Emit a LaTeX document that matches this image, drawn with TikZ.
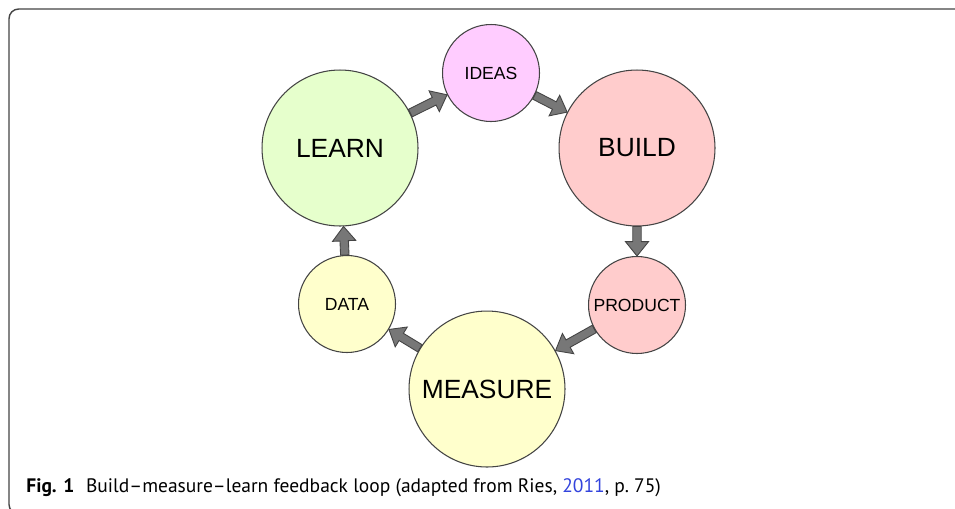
\documentclass[tikz,border=0pt]{standalone}
\usepackage{fontspec}
\setsansfont{Liberation Sans}
\newfontfamily\capfont[Ligatures=TeX]{PT Sans}
\usepackage{tikz}
\usetikzlibrary{calc}

\definecolor{ideapink}{HTML}{FFCCFF}
\definecolor{learngreen}{HTML}{E6FFCC}
\definecolor{buildred}{HTML}{FFCCCC}
\definecolor{measureyellow}{HTML}{FFFFCC}
\definecolor{arrowgray}{HTML}{777777}
\definecolor{edgegray}{HTML}{444444}
\definecolor{citeblue}{HTML}{3344DD}

% block arrow from the border of #1 to the border of #2
\newcommand{\loopstep}[2]{%
\path (#1) -- (#2) coordinate[pos=0] (tail) coordinate[pos=1] (head);
\draw[blockarrow] let \p1=($(head)-(tail)$), \n1={veclen(\x1,\y1)}, \n2={atan2(\y1,\x1)} in
  [shift={(tail)},rotate=\n2]
  (0pt,-2.4pt) -- (\n1-8.2pt,-2.4pt) -- (\n1-8.2pt,-6.6pt) -- (\n1,0pt)
  -- (\n1-8.2pt,6.6pt) -- (\n1-8.2pt,2.4pt) -- (0pt,2.4pt) -- cycle;
}

\begin{document}
\begin{tikzpicture}[x=0.02cm,y=-0.02cm,
  bubble/.style={circle,draw=edgegray,line width=0.6pt,inner sep=0pt},
  bigbubble/.style={bubble,minimum size=3.12cm,font=\sffamily\fontsize{15}{18}\selectfont},
  smallbubble/.style={bubble,minimum size=1.94cm,font=\sffamily\fontsize{10}{12}\selectfont},
  blockarrow/.style={draw=edgegray,fill=arrowgray,line width=0.5pt,line join=miter}]
\useasboundingbox (0,0) rectangle (955,508);
\clip (0,0) rectangle (955,508);
\fill[white] (0,0) rectangle (955,508);
\draw[edgegray,line width=0.8pt,rounded corners=5.5pt] (40,514) -- (9,514) -- (9,9) -- (980,9);

\node at (491,73) [smallbubble,fill=ideapink] (ideas) {IDEAS};
\node at (340,148) [bigbubble,fill=learngreen] (learn) {LEARN};
\node at (637,148) [bigbubble,fill=buildred] (build) {BUILD};
\node at (637,305) [smallbubble,fill=buildred] (product) {PRODUCT};
\node at (487,389) [bigbubble,fill=measureyellow] (measure) {MEASURE};
\node at (347,304) [smallbubble,fill=measureyellow] (data) {DATA};

\loopstep{learn}{ideas}
\loopstep{ideas}{build}
\loopstep{build}{product}
\loopstep{product}{measure}
\loopstep{measure}{data}
\loopstep{data}{learn}

\node at (26,492) [anchor=base west,inner sep=0pt,font=\capfont\fontsize{11.1}{13}\selectfont] (caption)
  {\textbf{Fig. 1}\hspace{0.6em}Build--measure--learn feedback loop (adapted from Ries, \textcolor{citeblue}{2011}, p.~75)};
\end{tikzpicture}
\end{document}
